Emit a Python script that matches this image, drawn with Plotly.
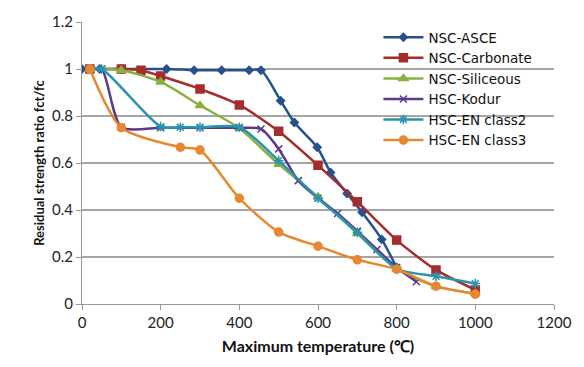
import plotly.graph_objects as go

# Residual compressive strength ratio vs. maximum exposure temperature
asce_t = [0, 45, 100, 215, 285, 355, 425, 455, 505, 540, 598, 632, 674, 712, 762, 800]
asce_r = [1.0, 1.0, 1.0, 1.0, 0.995, 0.995, 0.995, 0.995, 0.865, 0.772, 0.667, 0.56, 0.47, 0.39, 0.275, 0.155]

carb_t = [20, 100, 150, 200, 300, 400, 500, 600, 700, 800, 900, 1000]
carb_r = [1.0, 1.0, 0.995, 0.97, 0.915, 0.847, 0.735, 0.59, 0.435, 0.272, 0.145, 0.06]

sil_t = [20, 100, 200, 300, 400, 500, 600, 700, 800, 900, 1000]
sil_r = [1.0, 0.995, 0.945, 0.845, 0.748, 0.595, 0.455, 0.3, 0.15, 0.075, 0.045]

kodur_t = [20, 50, 100, 200, 300, 400, 455, 500, 550, 600, 650, 700, 750, 800, 850]
kodur_r = [1.0, 1.0, 0.752, 0.75, 0.75, 0.75, 0.745, 0.66, 0.525, 0.45, 0.385, 0.31, 0.232, 0.155, 0.095]

en2_t = [20, 50, 200, 250, 300, 400, 500, 600, 700, 800, 900, 1000]
en2_r = [1.0, 1.0, 0.755, 0.752, 0.752, 0.752, 0.61, 0.45, 0.305, 0.15, 0.118, 0.087]

en3_t = [20, 100, 250, 300, 400, 500, 600, 700, 800, 900, 1000]
en3_r = [1.0, 0.75, 0.667, 0.655, 0.45, 0.306, 0.246, 0.188, 0.148, 0.076, 0.042]

names = ["NSC-ASCE", "NSC-Carbonate", "NSC-Siliceous", "HSC-Kodur", "HSC-EN class2", "HSC-EN class3"]
colors = ["#25528C", "#A52D2D", "#88B13F", "#5A3A8A", "#2A94AF", "#E7872F"]
symbols = ["diamond", "square", "triangle-up", "x-thin-open", "asterisk-open", "circle"]
sizes = [6, 8, 8, 7, 8, 8]
series = [(asce_t, asce_r), (carb_t, carb_r), (sil_t, sil_r),
          (kodur_t, kodur_r), (en2_t, en2_r), (en3_t, en3_r)]

fig = go.Figure()
for (t, r), name, c, s, sz in zip(series, names, colors, symbols, sizes):
    fig.add_trace(go.Scatter(
        x=t, y=r, name=name, mode="lines+markers",
        line=dict(color=c, width=2.5, shape="spline", smoothing=0.7),
        marker=dict(symbol=s, size=sz, color=c, line=dict(color=c, width=1.5)),
    ))

font_family = "Lato, 'Open Sans', sans-serif"
fig.update_layout(
    width=584, height=367,
    margin=dict(l=82, r=22, t=20, b=63),
    paper_bgcolor="white", plot_bgcolor="white",
    font=dict(family=font_family, size=15, color="#222222"),
    showlegend=True,
    legend=dict(x=0.628, y=1.0, xanchor="left", yanchor="top",
                bgcolor="rgba(0,0,0,0)",
                font=dict(family="'DejaVu Sans', sans-serif", size=13.5, color="#111111"),
                tracegroupgap=0, itemwidth=40),
    xaxis=dict(range=[0, 1200], tickvals=[0, 200, 400, 600, 800, 1000, 1200],
               showgrid=False, showline=True, linecolor="#999999", linewidth=1,
               ticks="outside", tickcolor="#999999", ticklen=5,
               tickfont=dict(size=15, color="#222222"), zeroline=False,
               title=dict(text="<b>Maximum temperature (℃)</b>",
                          font=dict(size=16, color="#111111"), standoff=10)),
    yaxis=dict(range=[0, 1.2], tickvals=[0, 0.2, 0.4, 0.6, 0.8, 1, 1.2],
               ticktext=["0", "0.2", "0.4", "0.6", "0.8", "1", "1.2"],
               showgrid=True, gridcolor="#A6A6A6", gridwidth=1.5,
               showline=True, linecolor="#999999", linewidth=1,
               ticks="outside", tickcolor="#999999", ticklen=5,
               tickfont=dict(size=15, color="#222222"), zeroline=False,
               title=dict(text="<b>Residual strength ratio fct/fc</b>",
                          font=dict(size=13, color="#111111"), standoff=4)),
)

fig.write_html("out.html")
